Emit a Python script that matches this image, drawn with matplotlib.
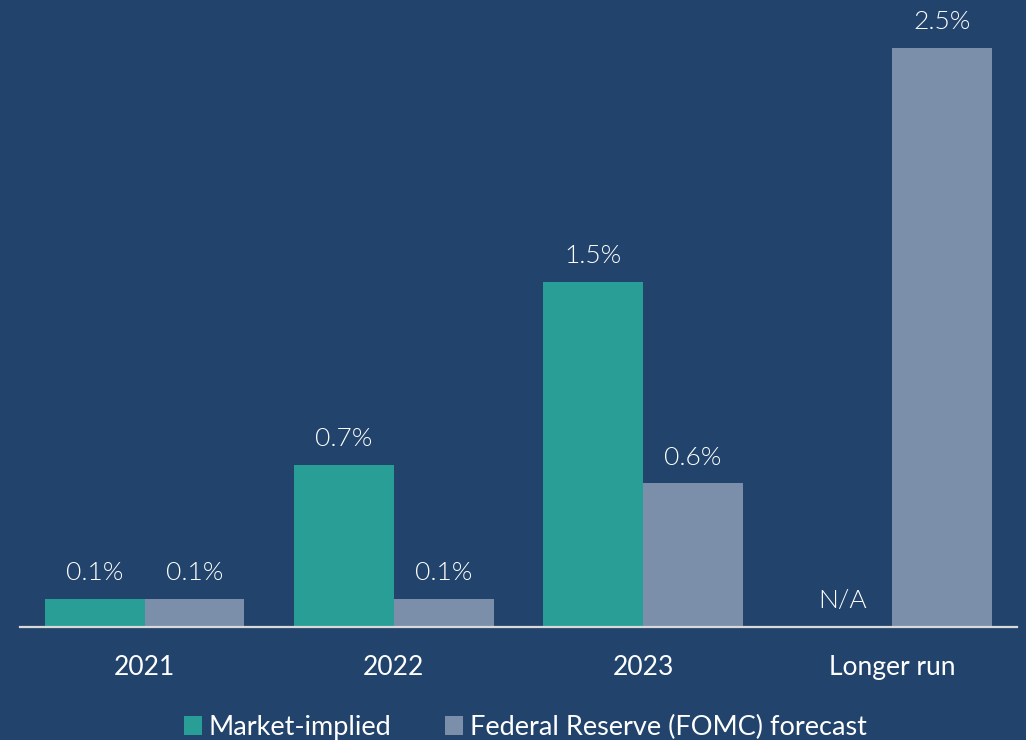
import matplotlib
matplotlib.use("Agg")
import matplotlib.pyplot as plt
import numpy as np

categories = ["2021", "2022", "2023", "Longer run"]
market_implied = [0.12, 0.70, 1.49, None]
fomc_forecast = [0.12, 0.12, 0.62, 2.50]
series_names = ["Market-implied", "Federal Reserve (FOMC) forecast"]

BG = "#22446C"
TEAL = "#289E97"
GREY = "#7B8FAB"

plt.rcParams["font.family"] = ["Lato", "DejaVu Sans"]

fig = plt.figure(figsize=(10.26, 7.40), dpi=100, facecolor=BG)
ax = fig.add_axes([20 / 1026, 1 - 627 / 740, 997 / 1026, 625 / 740])
ax.set_facecolor(BG)

x = np.arange(len(categories))
w = 0.4
mi_vals = [v if v is not None else 0 for v in market_implied]
b1 = ax.bar(x - w / 2, mi_vals, w, color=TEAL, label=series_names[0])
b2 = ax.bar(x + w / 2, fomc_forecast, w, color=GREY, label=series_names[1])

def lab(xp, v, txt):
    ax.annotate(txt, (xp, v), xytext=(0, 10), textcoords="offset points",
                ha="center", va="bottom", color="white", fontsize=19,
                fontweight=300, clip_on=False)

for xi, v in zip(x, market_implied):
    if v is None:
        lab(xi - w / 2, 0, "N/A")
    else:
        lab(xi - w / 2, v, f"{v:.1f}%")
for xi, v in zip(x, fomc_forecast):
    lab(xi + w / 2, v, f"{v:.1f}%")

ax.set_xlim(-0.5, len(categories) - 0.5)
ax.set_ylim(0, 2.7)
ax.set_yticks([])
ax.set_xticks(x)
ax.set_xticklabels(categories, color="white", fontsize=19)
ax.tick_params(axis="x", length=0, pad=20)
for s in ["top", "right", "left"]:
    ax.spines[s].set_visible(False)
ax.spines["bottom"].set_color("#D9D9D9")
ax.spines["bottom"].set_linewidth(1.6)

leg = fig.legend(handles=[b1, b2], labels=series_names, loc="lower center",
                 bbox_to_anchor=(0.512, -0.033), ncol=2, frameon=False,
                 fontsize=19.5, handlelength=0.65, handleheight=0.65,
                 handletextpad=0.25, columnspacing=2.0)
for t in leg.get_texts():
    t.set_color("white")

fig.savefig("out.png", dpi=100, facecolor=BG)
